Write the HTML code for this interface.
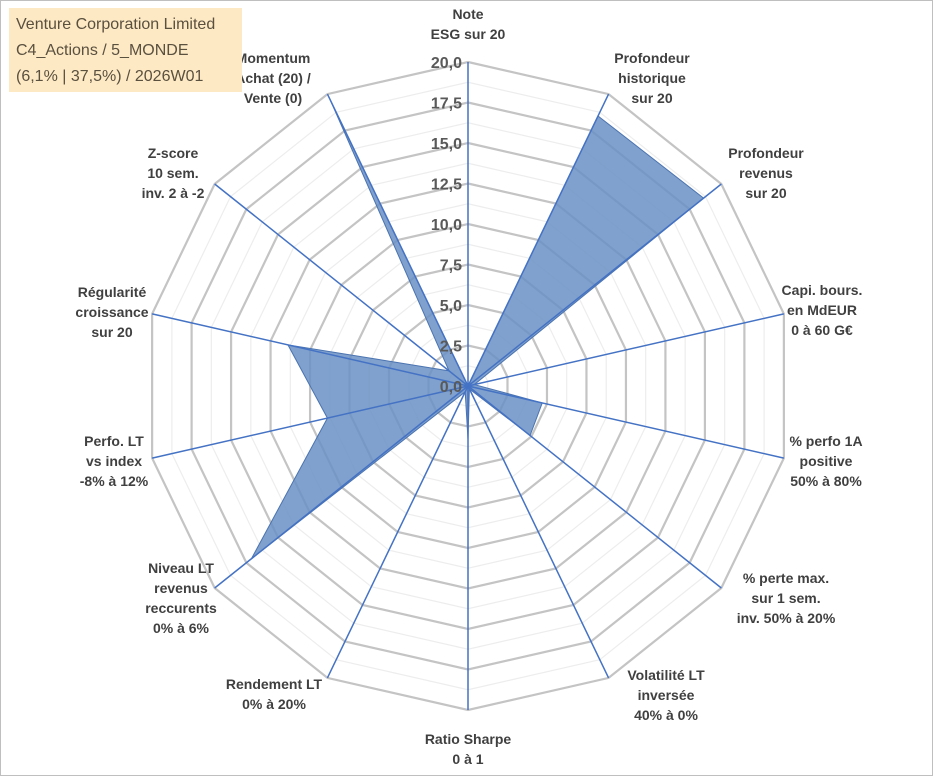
<!DOCTYPE html>
<html><head><meta charset="utf-8">
<style>
body{margin:0;background:#fff;}
#wrap{position:relative;width:933px;height:776px;overflow:hidden;font-family:"Liberation Sans",sans-serif;}
svg{position:absolute;left:0;top:0;}
</style></head>
<body>
<div id="wrap">
<svg id="chart" width="933" height="776"></svg>
</div>
<script>
const categories = [
 ["Note","ESG sur 20"],
 ["Profondeur","historique","sur 20"],
 ["Profondeur","revenus","sur 20"],
 ["Capi. bours.","en MdEUR","0 à 60 G€"],
 ["% perfo 1A","positive","50% à 80%"],
 ["% perte max.","sur 1 sem.","inv. 50% à 20%"],
 ["Volatilité LT","inversée","40% à 0%"],
 ["Ratio Sharpe","0 à 1"],
 ["Rendement LT","0% à 20%"],
 ["Niveau LT","revenus","reccurents","0% à 6%"],
 ["Perfo. LT","vs index","-8% à 12%"],
 ["Régularité","croissance","sur 20"],
 ["Z-score","10 sem.","inv. 2 à -2"],
 ["Momentum","Achat (20) /","Vente (0)"]
];
const values = [0, 18.5, 18.6, 0.4, 4.7, 4.9, 0.2, 3.3, 0.4, 17.1, 8.9, 11.4, 1.5, 19.6];
const tickLabels = ["0,0","2,5","5,0","7,5","10,0","12,5","15,0","17,5","20,0"];
const labelPos = [[468,14],[652,58],[766,153],[822,290],[826,441],[786,578],[666,675],[468,739],[274,684],[181,568],[114,441],[112,292],[173,153],[273,58]];

const svg = document.getElementById('chart');
const NS = 'http://www.w3.org/2000/svg';
const cx = 468, cy = 386, R = 324, maxV = 20, N = categories.length;
function ang(i){ return i*2*Math.PI/N; }
function pt(i,v){ const r = v/maxV*R; return [cx + r*Math.sin(ang(i)), cy - r*Math.cos(ang(i))]; }
function mk(tag, attrs){ const e = document.createElementNS(NS, tag); for (const k in attrs) e.setAttribute(k, attrs[k]); svg.appendChild(e); return e; }

let b = mk('rect',{x:0.5,y:0.5,width:932,height:775,fill:'#fff',stroke:'#bfbfbf'});



for (let s = 1; s <= 16; s++) {
  const v = s*1.25;
  const pts = [];
  for (let i = 0; i < N; i++) pts.push(pt(i, v).join(','));
  const major = s % 2 === 0;
  const g = mk('polygon',{points:pts.join(' '),fill:'none',stroke:major?'#c4c4c4':'#ededed','stroke-width':major?2.2:1.2});
  
  
}

const dp = values.map((v,i)=>pt(i,v).join(',')).join(' ');
const poly = mk('polygon',{points:dp,fill:'#6a91c4','fill-opacity':0.85,stroke:'#4a73b0','stroke-width':1});



for (let i = 0; i < N; i++) {
  const [x,y] = pt(i, maxV);
  const l = mk('line',{x1:cx,y1:cy,x2:x,y2:y,stroke:'#4472c4','stroke-width':1.5});
  
  
}

tickLabels.forEach((t,k)=>{
  const y = cy - (k*2.5)/maxV*R;
  const e = mk('text',{x:cx-6,y:y+6,'text-anchor':'end','font-size':16,'font-weight':'bold',fill:'#595959'});
  e.textContent = t;
  
  
});

categories.forEach((lines,i)=>{
  const [x,y] = labelPos[i];
  const e = mk('text',{x:x,y:y,'text-anchor':'middle','font-size':14,'font-weight':'bold',fill:'#404040'});
  lines.forEach((ln,j)=>{
    const ts = document.createElementNS(NS,'tspan');
    ts.setAttribute('x',x); ts.setAttribute('dy', j===0 ? 5 : 20);
    ts.textContent = ln; e.appendChild(ts);
  });
  
  
});

const tb = mk('rect',{x:9,y:8,width:233,height:84,fill:'#fde9c3'});


["Venture Corporation Limited","C4_Actions / 5_MONDE","(6,1% | 37,5%) / 2026W01"].forEach((t,j)=>{
  const e = mk('text',{x:16,y:29+j*26,'font-size':16,fill:'#5a5040'});
  e.textContent = t;
  
  
});
</script>
</body></html>
